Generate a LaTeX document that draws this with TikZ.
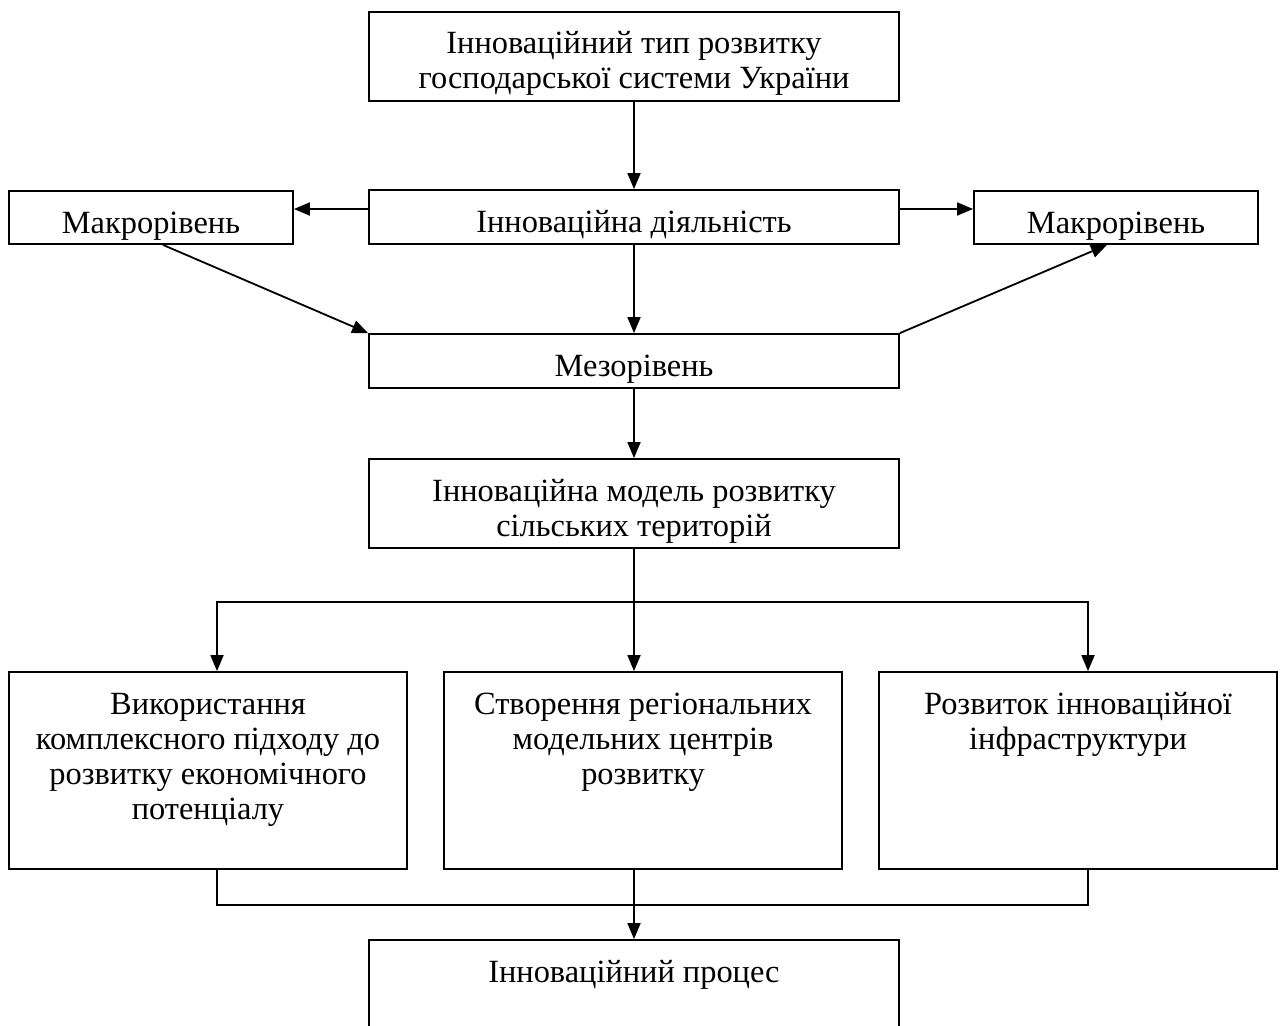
\documentclass[tikz,border=0pt]{standalone}
\usepackage{fontspec}
\setmainfont{Liberation Serif}
\usepackage{tikz}
\usetikzlibrary{positioning, arrows.meta}
\newcommand{\boxtext}[3]{\parbox[c][#2][t]{#1}{\centering\vspace*{17.5pt}\strut#3}}

\begin{document}
\begin{tikzpicture}[x=1pt, y=-1pt, line width=1.8pt,
    every node/.style={font=\fontsize{32.4}{35}\selectfont},
    blk/.style={draw, rectangle, inner sep=0pt, line width=1.8pt},
    arr/.style={-{Triangle[length=16pt, width=13pt]}}]
    \useasboundingbox (0,0) rectangle (1281,1025);

    % Upper part
    \node (ttype) at (634, 56.5) [blk] {\boxtext{530pt}{89pt}{Інноваційний тип розвитку\\ господарської системи України}};
    \node (act) at (634, 217) [blk] {\boxtext{530pt}{54pt}{Інноваційна діяльність}};
    \node (macroL) at (151, 217.5) [blk] {\boxtext{284pt}{53pt}{Макрорівень}};
    \node (macroR) at (1116, 217.5) [blk] {\boxtext{284pt}{53pt}{Макрорівень}};
    \node (meso) at (634, 361) [blk] {\boxtext{530pt}{54pt}{Мезорівень}};
    \node (model) at (634, 503.5) [blk] {\boxtext{530pt}{89pt}{Інноваційна модель розвитку\\ сільських територій}};

    \draw[arr] (ttype.south) -- (act.north);
    \draw[arr] ([yshift=8pt]act.west) -- ([yshift=8pt]act.west -| macroL.east);
    \draw[arr] ([yshift=8pt]act.east) -- ([yshift=8pt]act.east -| macroR.west);
    \draw[arr] ([xshift=12pt]macroL.south) -- (meso.north west);
    \draw[arr] (meso.north east) -- ([xshift=-9pt]macroR.south);
    \draw[arr] (act.south) -- (meso.north);
    \draw[arr] (meso.south) -- (model.north);

    % Three directions
    \node (useC) at (208, 770.5) [blk] {\boxtext{398pt}{197pt}{Використання\\ комплексного підходу до\\ розвитку економічного\\ потенціалу}};
    \node (createC) at (643, 770.5) [blk] {\boxtext{398pt}{197pt}{Створення регіональних\\ модельних центрів\\ розвитку}};
    \node (infra) at (1078, 770.5) [blk] {\boxtext{398pt}{197pt}{Розвиток інноваційної\\ інфраструктури}};
    \coordinate (split) at (634, 602);

    \draw (model.south) -- (split);
    \draw[arr] (split) -| ([xshift=9pt]useC.north);
    \draw[arr] (split) -| ([xshift=10pt]infra.north);
    \draw[arr] (split) -- (split |- createC.north);

    % Lower part
    \node (proc) at (634, 984.5) [blk] {\boxtext{530pt}{89pt}{Інноваційний процес}};
    \coordinate (join) at (634, 905);
    \draw ([xshift=9pt]useC.south) |- (join) -| ([xshift=10pt]infra.south);
    \draw[arr] (join |- createC.south) -- (proc.north);
\end{tikzpicture}
\end{document}
